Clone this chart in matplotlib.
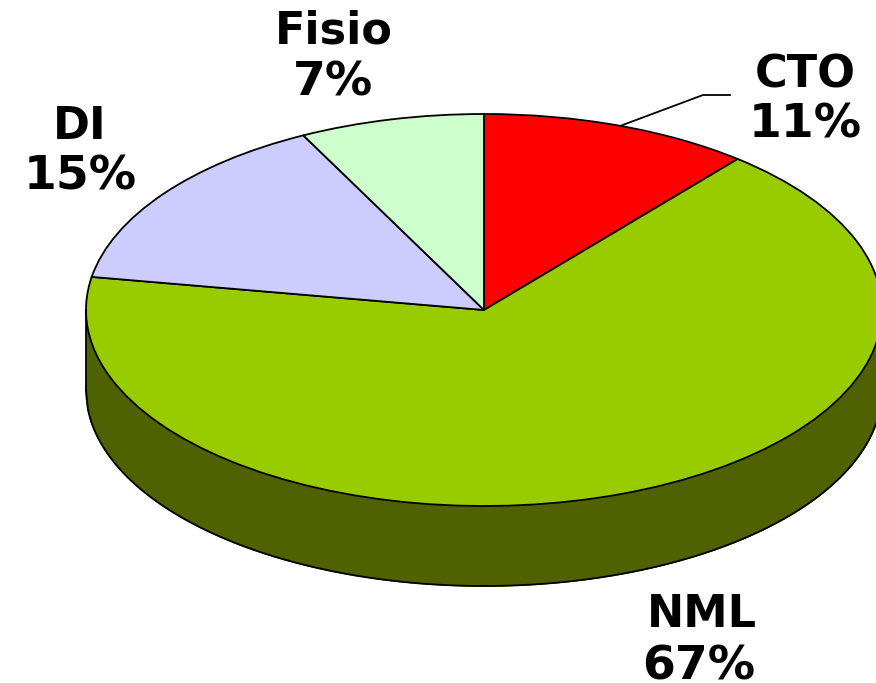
import matplotlib
matplotlib.use('Agg')
import matplotlib.pyplot as plt
from matplotlib.lines import Line2D
import numpy as np

names = ['CTO', 'NML', 'DI', 'Fisio']
# slice sizes, labels are the rounded figures printed on it
values = [11.0, 66.7, 14.8, 7.5]
percent = ['11%', '67%', '15%', '7%']
colors = ['#FF0000', '#99CC00', '#CCCCFF', '#CCFFCC']

W, H = 876, 683
cx, cy = 484, 310
rx, ry = 398, 196
depth = 80 / ry

fig = plt.figure(figsize=(W / 100, H / 100), dpi=100, facecolor='white')
ax = fig.add_axes([0, 0, 1, 1])

# side of the cake first, then the top on it
edge = {'edgecolor': 'black', 'linewidth': 1.3}
ax.pie(values, colors=['#4F6100'] * len(values), startangle=90, counterclock=False,
       center=(0, -depth), wedgeprops={'edgecolor': '#4F6100', 'linewidth': 1})
xs = np.linspace(-1, 1, 400)
ax.fill_between(xs, 0, -np.sqrt(1 - xs ** 2) - depth, color='#4F6100', linewidth=0)
ax.plot(xs, -np.sqrt(1 - xs ** 2) - depth, color='black', lw=1.3)
ax.plot([-1, -1], [0, -depth], color='black', lw=1.3)
ax.plot([1, 1], [0, -depth], color='black', lw=1.3)
ax.pie(values, colors=colors, startangle=90, counterclock=False, wedgeprops=edge)

ax.set_aspect('auto')
ax.set_xlim(-cx / rx, (W - cx) / rx)
ax.set_ylim((cy - H) / ry, cy / ry)
ax.axis('off')

# labels placed in pixels (centre x, baseline y)
label_pos = [(805, 88), (702, 627), (80, 139), (334, 44)]
pct_pos = [(805, 138), (699, 680), (80, 190), (333, 96)]
for n, p, a, b in zip(names, percent, label_pos, pct_pos):
    fig.text(a[0] / W, 1 - a[1] / H, n, ha='center', va='baseline', fontsize=32,
             fontweight='bold', family='DejaVu Sans', color='black')
    fig.text(b[0] / W, 1 - b[1] / H, p, ha='center', va='baseline', fontsize=34,
             fontweight='bold', family='DejaVu Sans', color='black')

# leader line of CTO
lx = [620 / W, 703 / W, 730 / W]
ly = [1 - 126 / H, 1 - 95 / H, 1 - 95 / H]
fig.add_artist(Line2D(lx, ly, color='black', lw=1.3))

fig.savefig('out.png', dpi=100)
